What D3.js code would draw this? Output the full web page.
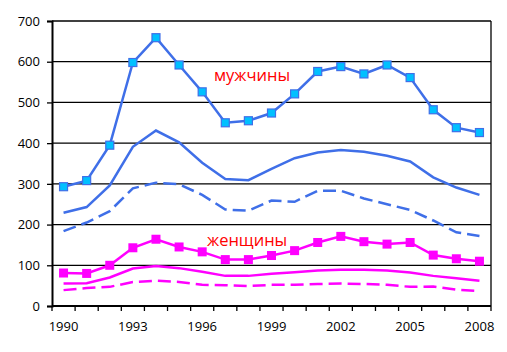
<!DOCTYPE html>
<html>
<head>
<meta charset="utf-8">
<script src="https://cdn.jsdelivr.net/npm/d3@7"></script>
<style>
  body { margin: 0; background: #fff; }
  svg text { font-family: "Open Sans", "Noto Sans", sans-serif; }
</style>
</head>
<body>
<svg width="507" height="352"></svg>
<script>
const years = ["1990","1991","1992","1993","1994","1995","1996","1997","1998","1999",
               "2000","2001","2002","2003","2004","2005","2006","2007","2008"];
const yearLabels = ["1990","1993","1996","1999","2002","2005","2008"];
const yTicks = [0, 100, 200, 300, 400, 500, 600, 700];

const menMarked = [293, 308, 395, 598, 659, 592, 526, 450, 455, 474, 521, 576, 588, 570, 592, 561, 482, 438, 426];
const menSolid  = [229, 243, 296, 391, 431, 402, 352, 312, 309, 337, 363, 377, 383, 379, 369, 355, 316, 291, 273];
const menDashed = [184, 205, 233, 289, 303, 299, 273, 237, 234, 259, 256, 283, 283, 264, 250, 236, 210, 181, 172];
const womenMarked = [81, 80, 100, 143, 164, 145, 133, 114, 114, 124, 136, 156, 171, 158, 152, 156, 125, 116, 110];
const womenSolid  = [55, 56, 70, 92, 98, 93, 84, 74, 74, 79, 83, 87, 89, 89, 87, 82, 74, 68, 62];
const womenDashed = [39, 44, 47, 59, 62, 59, 52, 51, 49, 52, 52, 54, 55, 54, 52, 47, 48, 40, 37];

const margin = {left: 52, top: 21, right: 16, bottom: 46};
const width = 507 - margin.left - margin.right;
const height = 352 - margin.top - margin.bottom;

const blue = "#3f6fe8";
const magenta = "#ff00ff";

const svg = d3.select("svg");
const g = svg.append("g").attr("transform", `translate(${margin.left},${margin.top})`);

const x = d3.scaleBand().domain(years).range([0, width]);
const y = d3.scaleLinear().domain([0, 700]).range([height, 0]);
const cx = d => x(d) + x.bandwidth() / 2;

// gridlines
g.selectAll(".grid")
  .data(yTicks.slice(1))
  .enter().append("line")
  .attr("x1", 0).attr("x2", width)
  .attr("y1", d => y(d)).attr("y2", d => y(d))
  .attr("stroke", "#000").attr("stroke-width", 1.3);

// right border
g.append("line")
  .attr("x1", width).attr("x2", width)
  .attr("y1", 0).attr("y2", height)
  .attr("stroke", "#000").attr("stroke-width", 1.3);

// y axis
const yAxis = g.append("g")
  .call(d3.axisLeft(y).tickValues(yTicks).tickSize(5).tickPadding(7));
yAxis.select(".domain").attr("stroke-width", 2);
yAxis.selectAll("line").attr("stroke-width", 1.3);
yAxis.selectAll("text").attr("font-size", 13).attr("fill", "#000");

// x axis: ticks at band boundaries, labels every 3 years
const xAxis = g.append("g").attr("transform", `translate(0,${height})`);
xAxis.append("line").attr("x1", 0).attr("x2", width).attr("stroke", "#000").attr("stroke-width", 2);
xAxis.selectAll(".tick")
  .data(d3.range(years.length + 1))
  .enter().append("line")
  .attr("x1", i => i * x.step()).attr("x2", i => i * x.step())
  .attr("y1", 0).attr("y2", 5)
  .attr("stroke", "#000").attr("stroke-width", 1.3);
xAxis.selectAll("text")
  .data(yearLabels)
  .enter().append("text")
  .attr("x", d => cx(d))
  .attr("y", 25)
  .attr("text-anchor", "middle")
  .attr("font-size", 13)
  .attr("fill", "#000")
  .text(d => d);

const line = d3.line().x((d, i) => cx(years[i])).y(d => y(d));

function drawLine(data, color, dash) {
  g.append("path")
    .datum(data)
    .attr("d", line)
    .attr("fill", "none")
    .attr("stroke", color)
    .attr("stroke-width", 2.5)
    .attr("stroke-dasharray", dash || null);
}

drawLine(menSolid, blue);
drawLine(menDashed, blue, "13,6");
drawLine(menMarked, blue);
drawLine(womenSolid, magenta);
drawLine(womenDashed, magenta, "13,6");
drawLine(womenMarked, magenta);

g.selectAll(".menpt")
  .data(menMarked)
  .enter().append("rect")
  .attr("x", (d, i) => cx(years[i]) - 4)
  .attr("y", d => y(d) - 4)
  .attr("width", 8).attr("height", 8)
  .attr("fill", "#00c0ff")
  .attr("stroke", blue).attr("stroke-width", 1.2);

g.selectAll(".wompt")
  .data(womenMarked)
  .enter().append("rect")
  .attr("x", (d, i) => cx(years[i]) - 4.5)
  .attr("y", d => y(d) - 4.5)
  .attr("width", 9).attr("height", 9)
  .attr("fill", magenta);

svg.append("text")
  .attr("x", 214).attr("y", 81)
  .attr("font-size", 16.5)
  .attr("fill", "#ff0000")
  .text("мужчины");

svg.append("text")
  .attr("x", 207).attr("y", 246)
  .attr("font-size", 16.5)
  .attr("fill", "#ff0000")
  .text("женщины");
</script>
</body>
</html>
